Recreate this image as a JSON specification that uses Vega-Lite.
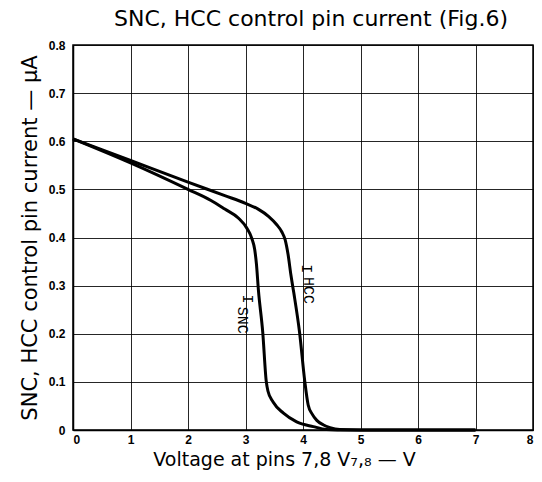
{
  "$schema": "https://vega.github.io/schema/vega-lite/v6.json",
  "width": 460,
  "height": 385,
  "autosize": {"type": "none"},
  "padding": {"left": 73, "top": 45, "right": 9, "bottom": 52},
  "background": "white",
  "title": {"text": "SNC, HCC control pin current (Fig.6)", "font": "DejaVu Sans", "fontSize": 22, "fontWeight": "normal", "color": "black", "anchor": "middle", "offset": 8, "dx": 8},
  "config": {
    "view": {"stroke": "black", "strokeWidth": 1.5},
    "axis": {
      "grid": true, "gridColor": "black", "gridWidth": 1, "gridOpacity": 0.85,
      "domainColor": "black", "domainWidth": 1.5, "ticks": false,
      "labelFont": "Liberation Sans", "labelFontWeight": "bold", "labelFontSize": 12, "labelColor": "black",
      "titleFont": "DejaVu Sans", "titleFontWeight": "normal", "titleFontSize": 19, "titleColor": "black"
    }
  },
  "datasets": {
    "curves": [
      {"series": "HCC", "v": 0, "i": 0.605},
      {"series": "HCC", "v": 1, "i": 0.56},
      {"series": "HCC", "v": 2, "i": 0.515},
      {"series": "HCC", "v": 2.64, "i": 0.487},
      {"series": "HCC", "v": 3.0, "i": 0.471},
      {"series": "HCC", "v": 3.22, "i": 0.459},
      {"series": "HCC", "v": 3.4, "i": 0.444},
      {"series": "HCC", "v": 3.54, "i": 0.427},
      {"series": "HCC", "v": 3.63, "i": 0.412},
      {"series": "HCC", "v": 3.69, "i": 0.395},
      {"series": "HCC", "v": 3.74, "i": 0.365},
      {"series": "HCC", "v": 3.79, "i": 0.322},
      {"series": "HCC", "v": 3.84, "i": 0.285},
      {"series": "HCC", "v": 3.94, "i": 0.203},
      {"series": "HCC", "v": 4.03, "i": 0.102},
      {"series": "HCC", "v": 4.09, "i": 0.052},
      {"series": "HCC", "v": 4.16, "i": 0.033},
      {"series": "HCC", "v": 4.24, "i": 0.02},
      {"series": "HCC", "v": 4.35, "i": 0.011},
      {"series": "HCC", "v": 4.47, "i": 0.005},
      {"series": "HCC", "v": 4.64, "i": 0.001},
      {"series": "HCC", "v": 5, "i": 0},
      {"series": "HCC", "v": 7, "i": 0},
      {"series": "SNC", "v": 0, "i": 0.605},
      {"series": "SNC", "v": 1, "i": 0.555},
      {"series": "SNC", "v": 2, "i": 0.5},
      {"series": "SNC", "v": 2.4, "i": 0.477},
      {"series": "SNC", "v": 2.64, "i": 0.459},
      {"series": "SNC", "v": 2.88, "i": 0.44},
      {"series": "SNC", "v": 3.02, "i": 0.42},
      {"series": "SNC", "v": 3.11, "i": 0.398},
      {"series": "SNC", "v": 3.16, "i": 0.375},
      {"series": "SNC", "v": 3.19, "i": 0.345},
      {"series": "SNC", "v": 3.225, "i": 0.29},
      {"series": "SNC", "v": 3.3, "i": 0.203},
      {"series": "SNC", "v": 3.36, "i": 0.102},
      {"series": "SNC", "v": 3.39, "i": 0.081},
      {"series": "SNC", "v": 3.48, "i": 0.058},
      {"series": "SNC", "v": 3.66, "i": 0.035},
      {"series": "SNC", "v": 3.89, "i": 0.017},
      {"series": "SNC", "v": 4.18, "i": 0.007},
      {"series": "SNC", "v": 4.41, "i": 0.001},
      {"series": "SNC", "v": 4.6, "i": 0},
      {"series": "SNC", "v": 7, "i": 0}
    ],
    "labels": [
      {"t": "I", "v": 3.04, "i": 0.272},
      {"t": "SNC", "v": 2.96, "i": 0.228},
      {"t": "I", "v": 4.07, "i": 0.335},
      {"t": "HCC", "v": 4.1, "i": 0.29}
    ]
  },
  "layer": [
    {
      "data": {"name": "curves"},
      "mark": {"type": "line", "color": "black", "strokeWidth": 3, "interpolate": "monotone"},
      "encoding": {
        "x": {"field": "v", "type": "quantitative", "scale": {"domain": [0, 8], "nice": false}, "axis": {"values": [0,1,2,3,4,5,6,7,8], "format": "d", "title": "Voltage at pins 7,8 V₇,₈ — V", "titlePadding": 5, "labelPadding": 4, "titleX": 211}},
        "y": {"field": "i", "type": "quantitative", "scale": {"domain": [0, 0.8], "nice": false}, "axis": {"values": [0,0.1,0.2,0.3,0.4,0.5,0.6,0.7,0.8], "format": "~g", "title": "SNC, HCC control pin current — μA", "titlePadding": 8, "titleFontSize": 21, "labelPadding": 8}},
        "detail": {"field": "series"}
      }
    },
    {
      "data": {"name": "labels"},
      "mark": {"type": "text", "angle": 90, "font": "Liberation Mono", "fontSize": 15, "color": "black", "align": "center", "baseline": "middle"},
      "encoding": {
        "x": {"field": "v", "type": "quantitative"},
        "y": {"field": "i", "type": "quantitative"},
        "text": {"field": "t"}
      }
    }
  ]
}
